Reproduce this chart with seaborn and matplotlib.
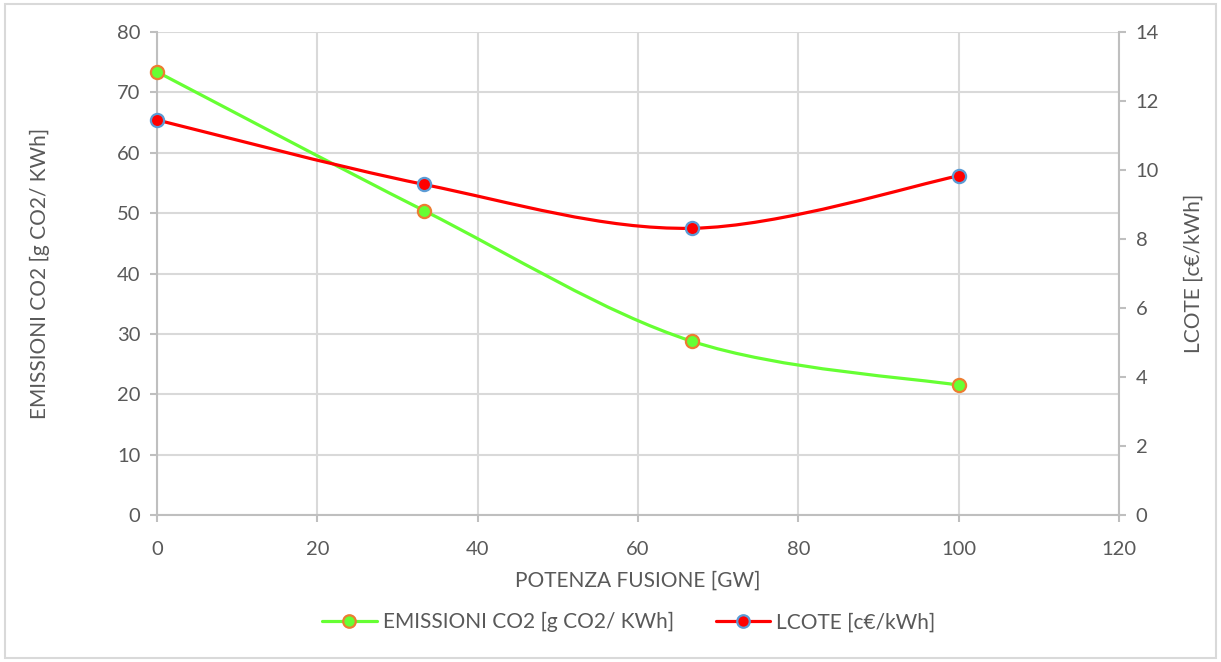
import numpy as np
import pandas as pd
import seaborn as sns
import matplotlib
matplotlib.use("Agg")
import matplotlib.pyplot as plt
from matplotlib.path import Path
from matplotlib.patches import PathPatch, Rectangle
from matplotlib.lines import Line2D

# Data
potenza_gw = [0, 33.33, 66.67, 100]
emissioni_co2 = [73.4, 50.4, 28.8, 21.5]
lcote = [11.45, 9.58, 8.31, 9.83]

x_label = "POTENZA FUSIONE [GW]"
y_left_label = "EMISSIONI CO2 [g CO2/ KWh]"
y_right_label = "LCOTE [c€/kWh]"

x_ticks = [0, 20, 40, 60, 80, 100, 120]
y_left_ticks = [0, 10, 20, 30, 40, 50, 60, 70, 80]
y_right_ticks = [0, 2, 4, 6, 8, 10, 12, 14]

GREEN = "#66ff33"
GREEN_EDGE = "#ed7d31"
RED = "#ff0000"
RED_EDGE = "#5b9bd5"
TEXT = "#595959"
AXIS = "#bfbfbf"
GRID = "#d9d9d9"

sns.set_theme(style="white")
plt.rcParams["font.family"] = ["Lato", "DejaVu Sans"]

df = pd.DataFrame({"potenza": potenza_gw, "emissioni": emissioni_co2, "lcote": lcote})


def smooth_path(xs, ys):
    """Smoothed curve through the points as cubic Bezier segments."""
    pts = np.column_stack([xs, ys]).astype(float)
    n = len(pts)
    verts = [pts[0]]
    codes = [Path.MOVETO]
    for i in range(n - 1):
        p0 = pts[max(i - 1, 0)]
        p1 = pts[i]
        p2 = pts[i + 1]
        p3 = pts[min(i + 2, n - 1)]
        c1 = p1 + (p2 - p0) / 6.0
        c2 = p2 - (p3 - p1) / 6.0
        verts += [c1, c2, p2]
        codes += [Path.CURVE4] * 3
    return Path(verts, codes)


fig = plt.figure(figsize=(12.21, 6.62), dpi=100)
ax = fig.add_axes([0.1286, 0.222, 0.9165 - 0.1286, 0.9517 - 0.222])
ax2 = ax.twinx()

# Left axis: emissions
ax.add_patch(PathPatch(smooth_path(df["potenza"], df["emissioni"]), facecolor="none",
                       edgecolor=GREEN, lw=2.3, capstyle="round", zorder=3))
sns.scatterplot(data=df, x="potenza", y="emissioni", ax=ax, color=GREEN,
                edgecolor=GREEN_EDGE, linewidth=1.6, s=90, zorder=4, clip_on=False)

# Right axis: LCOTE
ax2.add_patch(PathPatch(smooth_path(df["potenza"], df["lcote"]), facecolor="none",
                        edgecolor=RED, lw=2.3, capstyle="round", zorder=3))
sns.scatterplot(data=df, x="potenza", y="lcote", ax=ax2, color=RED,
                edgecolor=RED_EDGE, linewidth=1.6, s=90, zorder=4, clip_on=False)

ax.set_xlim(0, 120)
ax.set_ylim(0, 80)
ax2.set_ylim(0, 14)
ax.set_xticks(x_ticks)
ax.set_yticks(y_left_ticks)
ax2.set_yticks(y_right_ticks)

ax.grid(True, color=GRID, lw=1.5)
ax.set_axisbelow(True)
ax2.grid(False)

for a in (ax, ax2):
    a.spines["top"].set_visible(False)
    for side in ("left", "right", "bottom"):
        a.spines[side].set_color(AXIS)
        a.spines[side].set_linewidth(1.5)
ax.spines["right"].set_visible(False)
ax2.spines["left"].set_visible(False)
ax2.spines["bottom"].set_visible(False)

ax.tick_params(axis="y", direction="out", length=5, width=1.5,
               color=AXIS, labelcolor=TEXT, labelsize=14.5, pad=7, left=True)
ax.tick_params(axis="x", direction="out", length=5, width=1.5,
               color=AXIS, labelcolor=TEXT, labelsize=14.5, pad=14, bottom=True)
ax2.tick_params(axis="y", direction="out", length=5, width=1.5, color=AXIS,
                labelcolor=TEXT, labelsize=14.5, pad=7, right=True)

ax.set_xlabel(x_label, color=TEXT, fontsize=15, labelpad=9)
ax.set_ylabel(y_left_label, color=TEXT, fontsize=15, labelpad=48)
ax2.set_ylabel(y_right_label, color=TEXT, fontsize=15, labelpad=18)

handles = [
    Line2D([0], [0], color=GREEN, lw=2.3, marker="o", markersize=9,
           markerfacecolor=GREEN, markeredgecolor=GREEN_EDGE, markeredgewidth=1.6),
    Line2D([0], [0], color=RED, lw=2.3, marker="o", markersize=9,
           markerfacecolor=RED, markeredgecolor=RED_EDGE, markeredgewidth=1.6),
]
fig.legend(handles, [y_left_label, y_right_label], loc="center",
           bbox_to_anchor=(0.515, 0.06), ncol=2, frameon=False, fontsize=15,
           labelcolor=TEXT, handlelength=2.6, handletextpad=0.3, columnspacing=2.0)

# Chart border
fig.add_artist(Rectangle((0.004, 0.006), 0.992, 0.988, transform=fig.transFigure,
                         fill=False, edgecolor="#d9d9d9", lw=1.5))

fig.savefig("out.png", dpi=100, facecolor="white")
